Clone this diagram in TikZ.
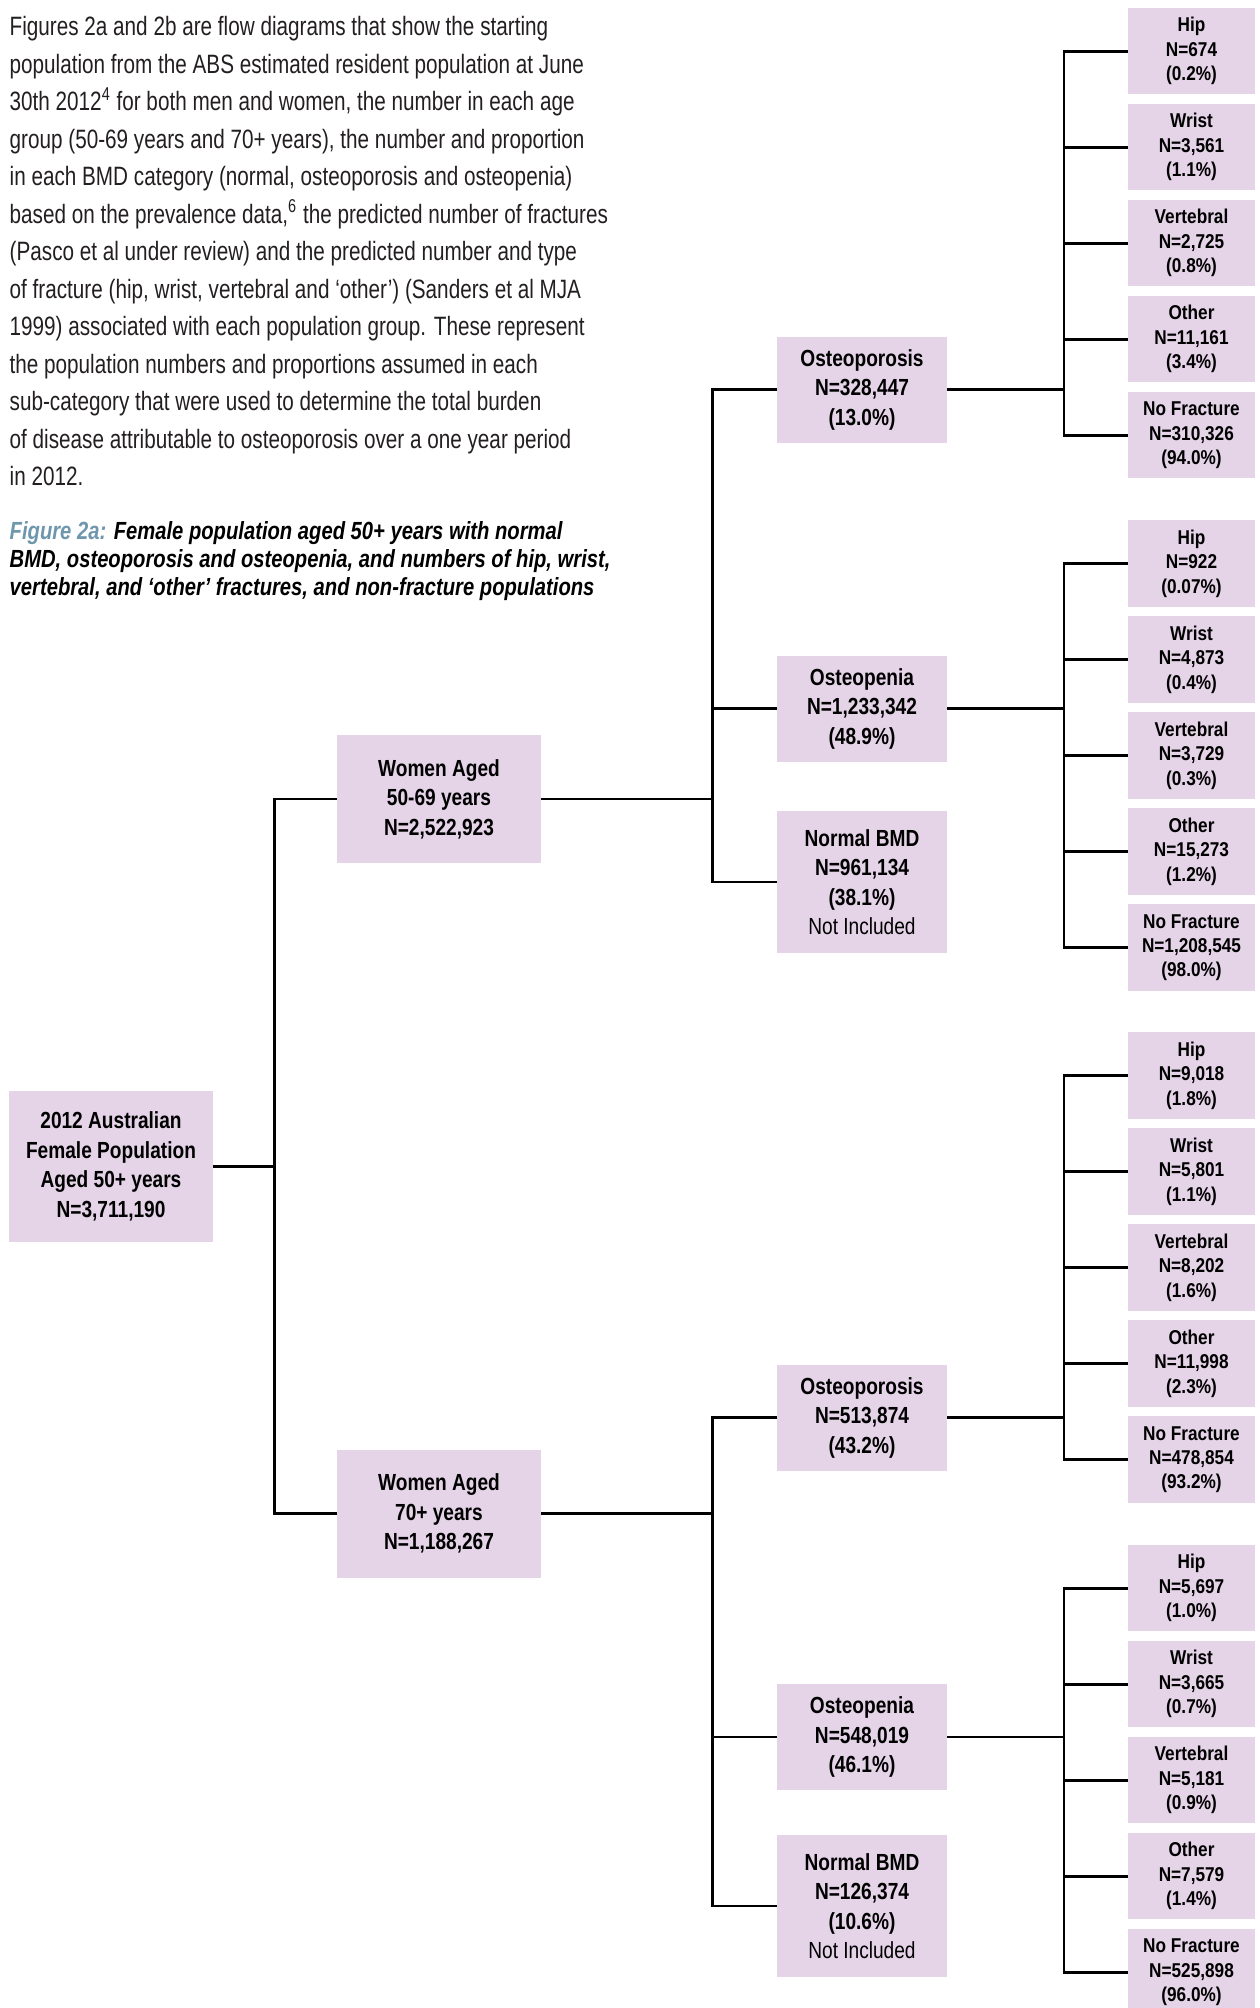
\documentclass[tikz,border=0pt]{standalone}
\usepackage{fontspec}
\setmainfont{Liberation Sans}[FakeStretch=0.78]
\newfontfamily\capfont{Liberation Sans}[FakeStretch=0.815]
\newfontfamily\boxfont{Liberation Sans}[FakeStretch=0.82]
\newfontfamily\fracfont{Liberation Sans}[FakeStretch=0.86]
\definecolor{boxfill}{RGB}{229,211,232}
\definecolor{figblue}{RGB}{110,150,172}
\definecolor{bodytext}{RGB}{35,31,32}

\begin{document}
\begin{tikzpicture}[x=0.5pt, y=-0.5pt,
    box/.style={fill=boxfill, inner sep=0pt, align=center, text=black,
      font=\boxfont\bfseries\fontsize{11.65}{14.75}\selectfont},
    agebox/.style={box, minimum width=102pt, minimum height=#1},
    bmdbox/.style={box, minimum width=85pt, minimum height=#1},
    fracbox/.style={box, minimum width=63.5pt, minimum height=43.25pt,
      font=\fracfont\bfseries\fontsize{10}{12.2}\selectfont},
    link/.style={draw=black, line width=1.35pt}]
  \useasboundingbox (0,0) rectangle (1259,2008);

  % Texto introdutorio
  \node[anchor=north west, inner sep=0pt, align=left, text=bodytext,
    font=\fontsize{13.27}{18.75}\selectfont] (intro) at (9.3,16) {%
    Figures 2a and 2b are flow diagrams that show the starting\\
    population from the ABS estimated resident population at June\\
    30th 2012\textsuperscript{4} for both men and women, the number in each age\\
    group (50-69 years and 70+ years), the number and proportion\\
    in each BMD category (normal, osteoporosis and osteopenia)\\
    based on the prevalence data,\textsuperscript{6} the predicted number of fractures\\
    (Pasco et al under review) and the predicted number and type\\
    of fracture (hip, wrist, vertebral and ‘other’) (Sanders et al MJA\\
    1999) associated with each population group. These represent\\
    the population numbers and proportions assumed in each\\
    sub-category that were used to determine the total burden\\
    of disease attributable to osteoporosis over a one year period\\
    in 2012.};

  % Legenda
  \node[anchor=north west, inner sep=0pt, align=left, text=black,
    font=\capfont\bfseries\itshape\fontsize{12.4}{14.1}\selectfont] (caption) at (9.3,521) {%
    \textcolor{figblue}{Figure 2a:} Female population aged 50+ years with normal\\
    BMD, osteoporosis and osteopenia, and numbers of hip, wrist,\\
    vertebral, and ‘other’ fractures, and non-fracture populations};

  % Populacao e faixas etarias
  \node[agebox=75.5pt] (pop) at (111,1166.5) {2012 Australian\\Female Population\\Aged 50+ years\\N=3,711,190};
  \node[agebox=64pt] (w1) at (439,799) {Women Aged\\50-69 years\\N=2,522,923};
  \node[agebox=64pt] (w2) at (439,1513.5) {Women Aged\\70+ years\\N=1,188,267};

  % Categorias de BMD
  \node[bmdbox=53pt] (op1) at (862,389.7) {Osteoporosis\\N=328,447\\(13.0\%)};
  \node[bmdbox=53pt] (pe1) at (862,708.5) {Osteopenia\\N=1,233,342\\(48.9\%)};
  \node[bmdbox=71pt] (nb1) at (862,882) {Normal BMD\\N=961,134\\(38.1\%)\\{\mdseries Not Included}};
  \node[bmdbox=53pt] (op2) at (862,1417.5) {Osteoporosis\\N=513,874\\(43.2\%)};
  \node[bmdbox=53pt] (pe2) at (862,1737) {Osteopenia\\N=548,019\\(46.1\%)};
  \node[bmdbox=71pt] (nb2) at (862,1906) {Normal BMD\\N=126,374\\(10.6\%)\\{\mdseries Not Included}};

  % Fraturas: osteoporose 50-69
  \node[fracbox] (op1-hip) at (1191.5,51.2) {Hip\\N=674\\(0.2\%)};
  \node[fracbox] (op1-wrist) at (1191.5,147.2) {Wrist\\N=3,561\\(1.1\%)};
  \node[fracbox] (op1-vert) at (1191.5,243.2) {Vertebral\\N=2,725\\(0.8\%)};
  \node[fracbox] (op1-other) at (1191.5,339.2) {Other\\N=11,161\\(3.4\%)};
  \node[fracbox] (op1-none) at (1191.5,435.2) {No Fracture\\N=310,326\\(94.0\%)};

  % Fraturas: osteopenia 50-69
  \node[fracbox] (pe1-hip) at (1191.5,563.7) {Hip\\N=922\\(0.07\%)};
  \node[fracbox] (pe1-wrist) at (1191.5,659.7) {Wrist\\N=4,873\\(0.4\%)};
  \node[fracbox] (pe1-vert) at (1191.5,755.7) {Vertebral\\N=3,729\\(0.3\%)};
  \node[fracbox] (pe1-other) at (1191.5,851.7) {Other\\N=15,273\\(1.2\%)};
  \node[fracbox] (pe1-none) at (1191.5,947.7) {No Fracture\\N=1,208,545\\(98.0\%)};

  % Fraturas: osteoporose 70+
  \node[fracbox] (op2-hip) at (1191.5,1075.7) {Hip\\N=9,018\\(1.8\%)};
  \node[fracbox] (op2-wrist) at (1191.5,1171.7) {Wrist\\N=5,801\\(1.1\%)};
  \node[fracbox] (op2-vert) at (1191.5,1267.7) {Vertebral\\N=8,202\\(1.6\%)};
  \node[fracbox] (op2-other) at (1191.5,1363.7) {Other\\N=11,998\\(2.3\%)};
  \node[fracbox] (op2-none) at (1191.5,1459.7) {No Fracture\\N=478,854\\(93.2\%)};

  % Fraturas: osteopenia 70+
  \node[fracbox] (pe2-hip) at (1191.5,1588.2) {Hip\\N=5,697\\(1.0\%)};
  \node[fracbox] (pe2-wrist) at (1191.5,1684.2) {Wrist\\N=3,665\\(0.7\%)};
  \node[fracbox] (pe2-vert) at (1191.5,1780.2) {Vertebral\\N=5,181\\(0.9\%)};
  \node[fracbox] (pe2-other) at (1191.5,1876.2) {Other\\N=7,579\\(1.4\%)};
  \node[fracbox] (pe2-none) at (1191.5,1972.2) {No Fracture\\N=525,898\\(96.0\%)};

  % Troncos das ligacoes
  \coordinate (t1) at (274.3,0);
  \coordinate (t2) at (712.7,0);
  \coordinate (t3) at (1064,0);

  % Ligacoes
  \draw[link] (pop.east) -- (pop.east -| t1) |- (w1.west);
  \draw[link] (pop.east -| t1) |- (w2.west);
  \foreach \age/\a/\b/\c in {w1/op1/pe1/nb1, w2/op2/pe2/nb2} {
    \draw[link] (\age.east) -- (\age.east -| t2) |- (\a.west);
    \draw[link] (\age.east -| t2) |- (\b.west);
    \draw[link] (\age.east -| t2) |- (\c.west);
  }
  \foreach \bmd in {op1, pe1, op2, pe2} {
    \draw[link] (\bmd.east) -- (\bmd.east -| t3);
    \foreach \frac in {hip, wrist, vert, other, none}
      \draw[link] (\bmd.east -| t3) |- (\bmd-\frac.west);
  }
\end{tikzpicture}
\end{document}
